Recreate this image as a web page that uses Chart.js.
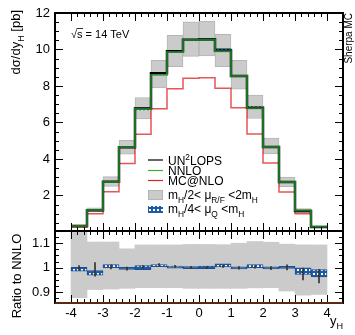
<!DOCTYPE html>
<html>
<head>
<meta charset="utf-8">
<script src="https://cdn.jsdelivr.net/npm/chart.js@4.4.1/dist/chart.umd.min.js"></script>
<style>
  html, body { margin: 0; padding: 0; background: #fff; }
</style>
</head>
<body>
<canvas id="c" width="355" height="335"></canvas>
<script>
// --------------------- DATA ------------------------
const binEdges   = [-4, -3.5, -3, -2.5, -2, -1.5, -1, -0.5, 0, 0.5, 1, 1.5, 2, 2.5, 3, 3.5, 4];
const binCenters = [-3.75, -3.25, -2.75, -2.25, -1.75, -1.25, -0.75, -0.25, 0.25, 0.75, 1.25, 1.75, 2.25, 2.75, 3.25, 3.75];

// dsigma/dy_H [pb]
const nnlo  = [0.33, 1.20, 2.74, 4.66, 6.74, 8.60, 9.86, 10.52, 10.55, 9.90, 8.55, 6.78, 4.66, 2.74, 1.17, 0.28];
const mcnlo = [0.26, 1.00, 2.20, 3.75, 5.35, 6.75, 7.85, 8.42, 8.45, 7.88, 6.80, 5.37, 3.78, 2.19, 0.99, 0.25];

// ratios to NNLO
const un2lopsRatio = [0.998, 0.993, 1.003, 0.996, 1.003, 1.012, 1.005, 1.001, 1.001, 1.005, 0.999, 1.003, 0.998, 1.001, 0.974, 0.965];
const statErr      = [0.010, 0.028, 0.008, 0.006, 0.005, 0.005, 0.004, 0.004, 0.004, 0.004, 0.005, 0.005, 0.006, 0.010, 0.024, 0.028];
const scaleLo = [0.877, 0.910, 0.912, 0.915, 0.918, 0.918, 0.918, 0.915, 0.915, 0.915, 0.915, 0.917, 0.918, 0.904, 0.887, 0.890];
const scaleHi = [1.170, 1.105, 1.105, 1.077, 1.093, 1.093, 1.093, 1.095, 1.095, 1.094, 1.100, 1.107, 1.104, 1.096, 1.093, 1.093];
const qLo     = [0.985, 0.969, 0.999, 0.993, 0.992, 1.004, 0.998, 0.996, 0.996, 1.003, 0.995, 0.999, 0.995, 0.997, 0.972, 0.962];
const qHi     = [1.001, 0.988, 1.012, 1.001, 1.008, 1.012, 1.006, 1.004, 1.006, 1.015, 1.003, 1.012, 1.003, 1.005, 0.999, 0.992];

const xTicks     = [-4, -3, -2, -1, 0, 1, 2, 3, 4];
const yTicks     = [2, 4, 6, 8, 10, 12];
const ratioTicks = [0.9, 1, 1.1];

const FONT = "'Liberation Sans', Arial, sans-serif";

// --------------------- HELPERS ------------------------
function steps(vals) {
    return binEdges.map((x, i) => ({ x: x, y: vals[Math.min(i, vals.length - 1)] }));
}
function band(lo, hi, base) {
    return binCenters.map((x, i) => ({ x: x, y: [lo[i] * (base ? base[i] : 1), hi[i] * (base ? base[i] : 1)] }));
}
function hatchPattern() {
    const p = document.createElement('canvas');
    p.width = 4; p.height = 4;
    const g = p.getContext('2d');
    g.fillStyle = '#1d5aa5';
    g.fillRect(0, 0, 4, 4);
    g.fillStyle = '#ffffff';
    g.fillRect(1, 1, 2, 2);
    return g.createPattern(p, 'repeat');
}
const hatch = hatchPattern();

// draw text with sub/superscripts; parts = [[text, mode]] mode 0 / -1 sub / 1 sup
function rich(ctx, parts, size, measureOnly) {
    let w = 0;
    parts.forEach(([t, m]) => {
        const fs = m ? size * 0.7 : size;
        ctx.font = fs + 'px ' + FONT;
        if (!measureOnly) {
            const dy = m === -1 ? size * 0.3 : (m === 1 ? -size * 0.4 : 0);
            ctx.fillText(t, w, dy);
        }
        w += ctx.measureText(t).width;
    });
    return w;
}
function richAt(ctx, parts, size, x, y, rot, alignRight) {
    ctx.save();
    ctx.translate(x, y);
    if (rot) ctx.rotate(rot);
    ctx.textBaseline = 'alphabetic';
    ctx.textAlign = 'left';
    if (alignRight) {
        const w = rich(ctx, parts, size, true);
        ctx.translate(-w, 0);
    }
    rich(ctx, parts, size);
    ctx.restore();
}

// --------------------- FRAME + TICKS ------------------------
const frameTicks = {
    id: 'frameTicks',
    afterDatasetsDraw(chart) {
        const ctx = chart.ctx;
        const xs = chart.scales.x;
        const panels = [
            { s: chart.scales.y, minor: 0.5, majorEvery: 4, from: 0.5, to: 12 },
            { s: chart.scales.r, minor: 0.025, majorEvery: 4, from: 0.875, to: 1.15 }
        ];
        ctx.save();
        ctx.strokeStyle = '#000';
        ctx.lineWidth = 1;
        panels.forEach(p => {
            const top = p.s.top, bot = p.s.bottom;
            for (let i = 0; i <= 40; i++) {
                const px = Math.round(xs.getPixelForValue(-4 + i * 0.2)) + 0.5;
                const len = i % 5 === 0 ? 8 : 4;
                ctx.beginPath();
                ctx.moveTo(px, bot); ctx.lineTo(px, bot - len);
                ctx.moveTo(px, top); ctx.lineTo(px, top + len);
                ctx.stroke();
            }
            for (let i = 0; ; i++) {
                const v = p.from + i * p.minor;
                if (v > p.to + 1e-9) break;
                const py = Math.round(p.s.getPixelForValue(v)) + 0.5;
                const len = i % p.majorEvery === (p === panels[0] ? 3 : 1) ? 8 : 4;
                ctx.beginPath();
                ctx.moveTo(xs.left, py); ctx.lineTo(xs.left + len, py);
                ctx.moveTo(xs.right, py); ctx.lineTo(xs.right - len, py);
                ctx.stroke();
            }
            ctx.lineWidth = 2;
            ctx.strokeRect(xs.left, top, xs.right - xs.left, bot - top);
            ctx.lineWidth = 1;
        });
        // bottom edge of ratio panel
        ctx.strokeStyle = '#5a2a10';
        ctx.lineWidth = 2;
        ctx.beginPath();
        ctx.moveTo(xs.left, chart.scales.r.bottom);
        ctx.lineTo(xs.right, chart.scales.r.bottom);
        ctx.stroke();
        ctx.restore();
    }
};

// --------------------- LABELS + LEGEND ------------------------
const labels = {
    id: 'labels',
    afterDraw(chart) {
        const ctx = chart.ctx;
        ctx.save();
        ctx.fillStyle = '#000';
        richAt(ctx, [['d\u03C3/dy', 0], ['H', -1], [' [pb]', 0]], 13, 20, 10, -Math.PI / 2, true);
        ctx.font = '13px ' + FONT;
        ctx.save();
        ctx.translate(21, 276);
        ctx.rotate(-Math.PI / 2);
        ctx.textAlign = 'center';
        ctx.fillText('Ratio to NNLO', 0, 0);
        ctx.restore();
        richAt(ctx, [['y', 0], ['H', -1]], 13, 343, 325, 0, true);
        richAt(ctx, [['Sherpa MC', 0]], 10, 352, 13, -Math.PI / 2, true);

        // sqrt(s) = 14 TeV
        ctx.font = '11px ' + FONT;
        ctx.textAlign = 'left';
        ctx.fillText('\u221A', 71, 38);
        const sx = 71 + ctx.measureText('\u221A').width;
        ctx.fillText('s = 14 TeV', sx, 38);
        ctx.lineWidth = 0.8;
        ctx.strokeStyle = '#000';
        ctx.beginPath();
        ctx.moveTo(sx - 0.5, 28.5); ctx.lineTo(sx + ctx.measureText('s').width + 0.5, 28.5);
        ctx.stroke();

        // legend
        const lx = 148, lw = 15, tx = 168;
        const lines = [['#000000', 160], ['#2fb52f', 170.5], ['#dd2222', 180.5]];
        lines.forEach(([c, y]) => {
            ctx.strokeStyle = c; ctx.lineWidth = 1.2;
            ctx.beginPath(); ctx.moveTo(lx, y); ctx.lineTo(lx + lw, y); ctx.stroke();
        });
        ctx.fillStyle = '#cbcbcb';
        ctx.fillRect(lx, 190, lw, 10);
        ctx.strokeStyle = '#b5b5b5'; ctx.lineWidth = 1;
        ctx.strokeRect(lx + 0.5, 190.5, lw - 1, 9);
        ctx.fillStyle = hatch;
        ctx.fillRect(lx, 206, lw, 7);
        ctx.fillStyle = '#000';
        richAt(ctx, [['UN', 0], ['2', 1], ['LOPS', 0]], 12, tx, 164.5, 0, false);
        richAt(ctx, [['NNLO', 0]], 12, tx, 175, 0, false);
        richAt(ctx, [['MC@NLO', 0]], 12, tx, 185, 0, false);
        richAt(ctx, [['m', 0], ['H', -1], ['/2< \u03BC', 0], ['R/F', -1], [' <2m', 0], ['H', -1]], 12, tx, 199, 0, false);
        richAt(ctx, [['m', 0], ['H', -1], ['/4< \u03BC', 0], ['Q', -1], [' <m', 0], ['H', -1]], 12, tx, 213, 0, false);
        ctx.restore();
    }
};

// --------------------- CHART ------------------------
const tickFont = { family: FONT, size: 13 };
const noGrid = { display: false, drawTicks: false };

const ctx = document.getElementById('c').getContext('2d');
const chart = new Chart(ctx, {
    data: {
        datasets: [
            // upper panel
            { type: 'bar', yAxisID: 'y', data: band(scaleLo, scaleHi, nnlo), backgroundColor: '#cbcbcb', borderColor: '#b5b5b5', borderWidth: 1, borderSkipped: false, order: 10 },
            { type: 'bar', yAxisID: 'y', data: band(qLo, qHi, nnlo), backgroundColor: hatch, borderWidth: 0, order: 9 },
            { type: 'line', yAxisID: 'y', data: steps(mcnlo), stepped: true, borderColor: 'rgba(220,30,30,0.75)', borderWidth: 1.5, pointRadius: 0, fill: false, order: 8 },
            { type: 'line', yAxisID: 'y', data: steps(nnlo.map((v, i) => v * un2lopsRatio[i])), stepped: true, borderColor: '#000', borderWidth: 2.5, pointRadius: 0, fill: false, order: 7 },
            { type: 'line', yAxisID: 'y', data: steps(nnlo), stepped: true, borderColor: 'rgba(40,160,50,0.7)', borderWidth: 2, pointRadius: 0, fill: false, order: 6 },
            // ratio panel
            { type: 'bar', yAxisID: 'r', data: band(scaleLo, scaleHi), backgroundColor: '#cbcbcb', borderWidth: 0, order: 10 },
            { type: 'bar', yAxisID: 'r', data: band(qLo, qHi), backgroundColor: hatch, borderColor: '#1d4f90', borderWidth: 1, borderSkipped: false, order: 9 },
            { type: 'line', yAxisID: 'r', data: steps(un2lopsRatio), stepped: true, borderColor: '#000', borderWidth: 2, pointRadius: 0, fill: false, order: 7 },
            { type: 'line', yAxisID: 'r', data: steps(nnlo.map(() => 1)), stepped: true, borderColor: '#2fb52f', borderWidth: 1.5, pointRadius: 0, fill: false, order: 6 },
            { type: 'bar', yAxisID: 'r', data: band(un2lopsRatio.map((v, i) => v - statErr[i]), un2lopsRatio.map((v, i) => v + statErr[i])), backgroundColor: '#333', barThickness: 1, order: 5 }
        ]
    },
    options: {
        responsive: false,
        animation: false,
        events: [],
        datasets: { bar: { grouped: false, barPercentage: 1, categoryPercentage: 1 } },
        layout: { padding: { left: 0, top: 13, right: 12, bottom: 0 } },
        plugins: { legend: { display: false }, tooltip: { enabled: false } },
        scales: {
            x: {
                type: 'linear', position: 'bottom', min: -4, max: 4,
                afterBuildTicks: s => { s.ticks = xTicks.map(v => ({ value: v })); },
                ticks: { font: tickFont, color: '#000', padding: 3, autoSkip: false, maxRotation: 0, callback: v => String(v) },
                grid: noGrid, border: { display: false },
                afterFit: s => { s.height = 32; }
            },
            r: {
                type: 'linear', position: 'left', stack: 'v', stackWeight: 72, min: 0.855, max: 1.15,
                afterBuildTicks: s => { s.ticks = ratioTicks.map(v => ({ value: v })); },
                ticks: { font: tickFont, color: '#000', padding: 5, callback: v => String(Math.round(v * 10) / 10) },
                grid: noGrid, border: { display: false },
                afterFit: s => { s.width = 55; }
            },
            y: {
                type: 'linear', position: 'left', stack: 'v', stackWeight: 218, min: 0.05, max: 12,
                afterBuildTicks: s => { s.ticks = yTicks.map(v => ({ value: v })); },
                ticks: { font: tickFont, color: '#000', padding: 5, callback: v => String(v) },
                grid: noGrid, border: { display: false },
                afterFit: s => { s.width = 55; }
            }
        }
    },
    plugins: [frameTicks, labels]
});
</script>
</body>
</html>
